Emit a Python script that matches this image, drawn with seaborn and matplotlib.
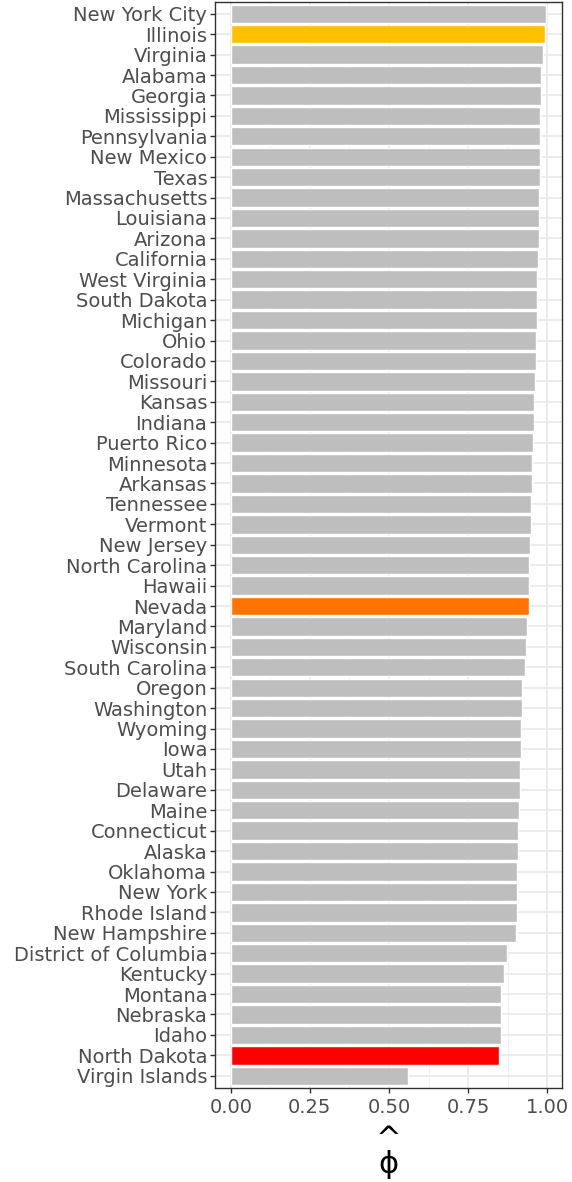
import numpy as np
import matplotlib
matplotlib.use("Agg")
import matplotlib.pyplot as plt
import pandas as pd
import seaborn as sns

# datos
estados = ["New York City", "Illinois", "Virginia", "Alabama", "Georgia", "Mississippi",
           "Pennsylvania", "New Mexico", "Texas", "Massachusetts", "Louisiana", "Arizona",
           "California", "West Virginia", "South Dakota", "Michigan", "Ohio", "Colorado",
           "Missouri", "Kansas", "Indiana", "Puerto Rico", "Minnesota", "Arkansas",
           "Tennessee", "Vermont", "New Jersey", "North Carolina", "Hawaii", "Nevada",
           "Maryland", "Wisconsin", "South Carolina", "Oregon", "Washington", "Wyoming",
           "Iowa", "Utah", "Delaware", "Maine", "Connecticut", "Alaska", "Oklahoma",
           "New York", "Rhode Island", "New Hampshire", "District of Columbia", "Kentucky",
           "Montana", "Nebraska", "Idaho", "North Dakota", "Virgin Islands"]
phi = [0.997, 0.992, 0.986, 0.980, 0.979, 0.978,
       0.978, 0.976, 0.976, 0.974, 0.974, 0.973,
       0.971, 0.969, 0.969, 0.968, 0.965, 0.964,
       0.960, 0.957, 0.957, 0.955, 0.953, 0.952,
       0.950, 0.948, 0.946, 0.944, 0.944, 0.944,
       0.936, 0.932, 0.930, 0.921, 0.919, 0.918,
       0.917, 0.915, 0.913, 0.910, 0.908, 0.907, 0.906,
       0.906, 0.905, 0.903, 0.874, 0.862,
       0.855, 0.853, 0.853, 0.848, 0.561]
destacados = {"Illinois": "#FFC000", "Nevada": "#FF7400", "North Dakota": "#FF0000"}

df = pd.DataFrame({"estado": estados, "phi": phi})
colores = {e: destacados.get(e, "#BEBEBE") for e in estados}

fig = plt.figure(figsize=(5.72, 11.82), dpi=100)
ax = fig.add_axes([215 / 572, 1 - 1088 / 1182, (562 - 215) / 572, (1088 - 1.5) / 1182])

ax.set_axisbelow(True)
for v in [0.125, 0.375, 0.625, 0.875]:
    ax.axvline(v, color="#F2F2F2", lw=0.8, zorder=0)
for v in [0, 0.25, 0.5, 0.75, 1.0]:
    ax.axvline(v, color="#EBEBEB", lw=1.3, zorder=0)
for i in range(len(estados)):
    ax.axhline(i, color="#EBEBEB", lw=1.3, zorder=0)

sns.barplot(data=df, x="phi", y="estado", hue="estado", palette=colores, legend=False,
            orient="h", width=0.9, saturation=1, edgecolor="white", linewidth=1.0,
            ax=ax, zorder=2)

m = max(phi)
ax.set_xlim(-0.05 * m, 1.05 * m)
ax.set_ylim(len(estados) - 0.4, -0.6)
ax.set_xticks([0, 0.25, 0.5, 0.75, 1.0])
ax.set_xticklabels(["0.00", "0.25", "0.50", "0.75", "1.00"])
ax.set_xlabel("")
ax.set_ylabel("")
ax.grid(False)

for s in ax.spines.values():
    s.set_color("#333333")
    s.set_linewidth(1.0)
ax.tick_params(axis="both", length=3.5, width=1.0, color="#333333",
               labelcolor="#4D4D4D", labelsize=14, pad=2)
ax.tick_params(axis="x", pad=4)

# titulo del eje x: phi con sombrero
xc = (215 + 562) / 2 / 572
fig.text(xc, 1 - 1152 / 1182, "^\n\u03d5", ha="center", va="center", multialignment="center",
         fontsize=22, linespacing=0.8, color="black")

fig.savefig("out.png", dpi=100)
